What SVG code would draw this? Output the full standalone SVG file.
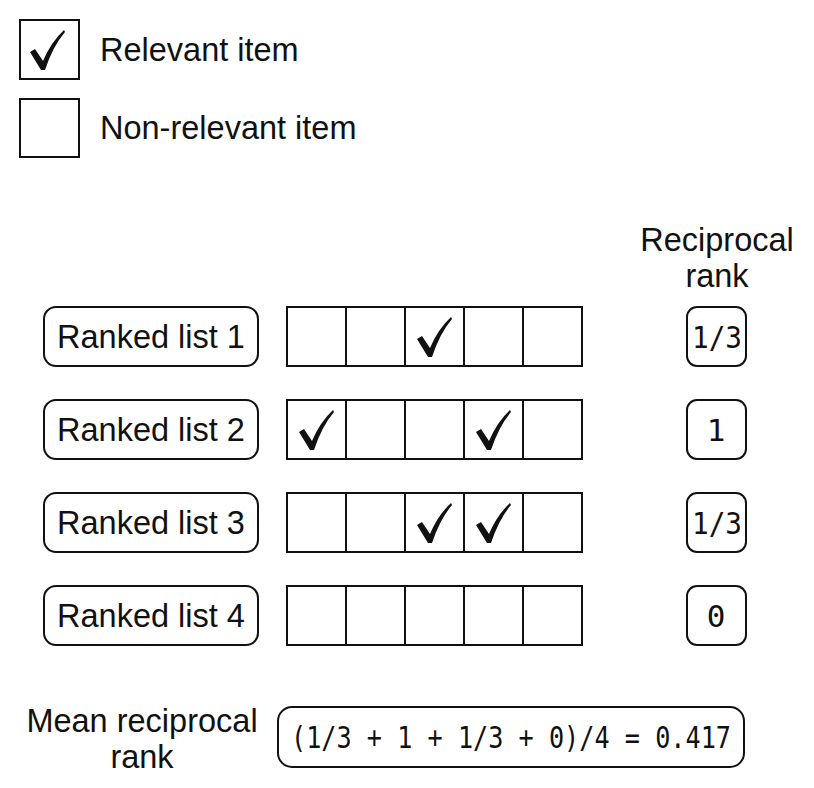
<svg xmlns="http://www.w3.org/2000/svg" width="814" height="788" viewBox="0 0 814 788">
<style>
.b{fill:#fff;stroke:#111;stroke-width:2}
.t{font-family:"Liberation Sans",Arial,sans-serif;font-size:32.5px;fill:#111}
.m{font-family:"DejaVu Sans Mono",monospace;font-size:31px;fill:#111}
.c{fill:#111}
</style>
<defs>
<path id="ck" d="M-17,2 L-12,-1 L-4,11 Q4,-8 17,-20 L18,-18 Q6,-4 -2,20 L-6,20 Z"/>
<g id="row"><rect class="b" x="0" y="0" width="295" height="59"/><path d="M59,0V59M118,0V59M177,0V59M236,0V59" stroke="#111" stroke-width="2"/></g>
</defs>
<rect width="814" height="788" fill="#fff"/>
<g id="legend">
<rect class="b" x="20" y="20" width="59" height="59"/><use href="#ck" x="47" y="50" class="c"/>
<text class="t" x="100" y="61">Relevant item</text>
<rect class="b" x="20" y="99" width="59" height="58"/>
<text class="t" x="100" y="139">Non-relevant item</text>
</g>
<g id="header"><text class="t" x="717" y="251" text-anchor="middle">Reciprocal</text><text class="t" x="717" y="287" text-anchor="middle">rank</text></g>
<g id="list1"><rect class="b" x="44" y="307" width="214" height="59" rx="12"/><text class="t" x="151" y="348" text-anchor="middle">Ranked list 1</text>
<use href="#row" x="287" y="307"/><use href="#ck" x="434" y="337" class="c"/>
<rect class="b" x="687" y="307" width="59" height="59" rx="10"/><text class="m" x="692" y="348" textLength="50" lengthAdjust="spacingAndGlyphs">1/3</text></g>
<g id="list2"><rect class="b" x="44" y="400" width="214" height="59" rx="12"/><text class="t" x="151" y="441" text-anchor="middle">Ranked list 2</text>
<use href="#row" x="287" y="400"/><use href="#ck" x="316" y="430" class="c"/><use href="#ck" x="493" y="430" class="c"/>
<rect class="b" x="687" y="400" width="59" height="59" rx="10"/><text class="m" x="716" y="441" text-anchor="middle">1</text></g>
<g id="list3"><rect class="b" x="44" y="493" width="214" height="59" rx="12"/><text class="t" x="151" y="534" text-anchor="middle">Ranked list 3</text>
<use href="#row" x="287" y="493"/><use href="#ck" x="434" y="523" class="c"/><use href="#ck" x="493" y="523" class="c"/>
<rect class="b" x="687" y="493" width="59" height="59" rx="10"/><text class="m" x="692" y="534" textLength="50" lengthAdjust="spacingAndGlyphs">1/3</text></g>
<g id="list4"><rect class="b" x="44" y="586" width="214" height="59" rx="12"/><text class="t" x="151" y="627" text-anchor="middle">Ranked list 4</text>
<use href="#row" x="287" y="586"/>
<rect class="b" x="687" y="586" width="59" height="59" rx="10"/><text class="m" x="716" y="627" text-anchor="middle">0</text></g>
<g id="mean"><text class="t" x="142" y="732" text-anchor="middle">Mean reciprocal</text><text class="t" x="142" y="768" text-anchor="middle">rank</text>
<rect class="b" x="278" y="707" width="466" height="60" rx="14"/><text class="m" x="291" y="748" textLength="440" lengthAdjust="spacingAndGlyphs">(1/3 + 1 + 1/3 + 0)/4 = 0.417</text></g>
<g id="connectors"/>
</svg>
